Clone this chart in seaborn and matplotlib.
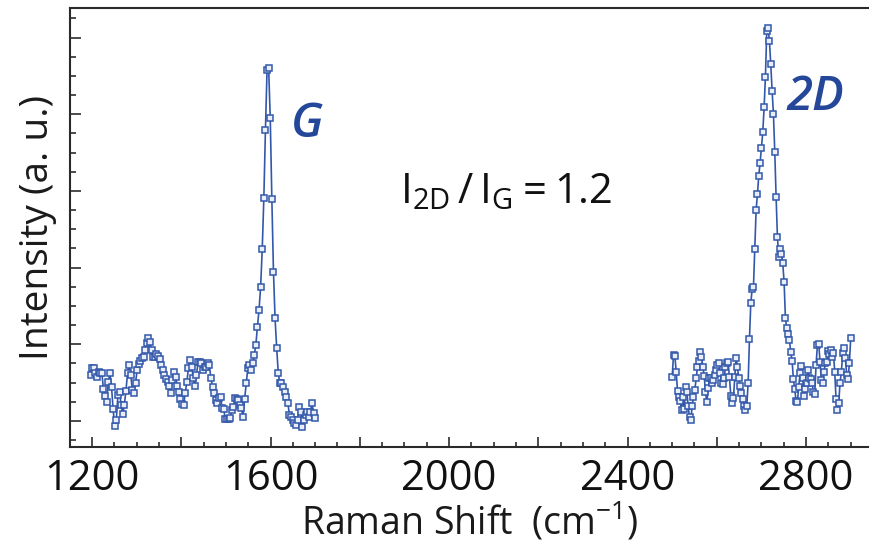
import matplotlib
matplotlib.use('Agg')
import matplotlib.pyplot as plt
import matplotlib.ticker as mticker
import numpy as np
import pandas as pd
import seaborn as sns

g_start, g_end = 1197, 1700
g_intensity = [
    1600, 1695, 1687, 1622, 1578, 1643, 1630, 1622, 1413, 1326,
    1252, 1512, 1622, 1447, 1153, 935, 1013, 1339, 1382, 1209,
    1087, 1209, 1395, 1622, 1730, 1600, 1404, 1369, 1499, 1665,
    1739, 1786, 1825, 1831, 1926, 2013, 2078, 2034, 1926, 1838,
    1838, 1874, 1852, 1805, 1730, 1665, 1600, 1544, 1512, 1456,
    1369, 1535, 1643, 1578, 1456, 1382, 1283, 1222, 1209, 1369,
    1512, 1695, 1795, 1708, 1557, 1456, 1600, 1773, 1773, 1760,
    1665, 1708, 1700, 1760, 1730, 1557, 1447, 1361, 1274, 1231,
    1296, 1317, 1166, 1153, 1022, 1022, 1022, 1035, 1143, 1179,
    1296, 1287, 1274, 1209, 1166, 1056, 1283, 1492, 1687, 1730,
    1665, 1752, 1861, 1991,
    2230, 2447, 2751, 3239, 3904, 4795, 5577, 5599, 4947, 3891,
    2947, 2339, 1956,
    1622, 1492, 1499, 1447, 1382, 1317, 1231, 1078, 1056, 1013,
    970, 948, 1013, 1186, 1121, 926, 1013, 1078, 1121, 1056,
    1121, 1231, 1100, 1035,
]

d_start, d_end = 2500, 2900
d_intensity = [
    1578, 1861, 1852, 1643, 1395, 1317, 1265, 1143, 1309, 1153,
    1439, 1382, 1196, 1048, 1013, 1196, 1317, 1404, 1557, 1708,
    1786, 1904, 1838, 1708, 1587, 1382, 1244, 1426, 1557, 1557,
    1492, 1535, 1600, 1665, 1730, 1760, 1622, 1492, 1482, 1557,
    1708, 1760, 1765, 1570, 1326, 1231, 1296, 1578, 1825, 1700,
    1557, 1456, 1361, 1287, 1196, 1143, 1196, 1492, 2065,
    2535, 2717, 2743, 3247, 3751, 3960, 4199, 4368, 4564, 4765,
    5091, 5490, 6090, 6121,
    5955, 5651, 5307, 5003, 4512, 3921, 3399, 3135, 3239, 3174,
    3056, 2816, 2339, 2209, 2134, 2056,
    1896, 1786, 1544, 1413, 1261, 1252, 1447, 1622, 1721, 1557,
    1326, 1413, 1492, 1665, 1557, 1544, 1492, 1382, 1352, 1730,
    1991, 2004, 1773, 1535, 1499, 1643, 1760, 1773, 1917, 1874,
    1926, 1838, 1891, 1643, 1287, 1143, 1231, 1499, 1643, 1883,
    1956, 1818, 1600, 1544, 1752, 2078,
]

peak_labels = ['G', '2D']
peak_label_pos = [(1682, 4860), (2820, 5212)]
ratio_text = r'$\mathregular{I_{2D}\,/\,I_G = 1.2}$'

g_df = pd.DataFrame({'shift': np.linspace(g_start, g_end, len(g_intensity)),
                     'intensity': g_intensity})
d_df = pd.DataFrame({'shift': np.linspace(d_start, d_end, len(d_intensity)),
                     'intensity': d_intensity})

sns.set_theme(style='ticks')
plt.rcParams['font.family'] = ['Open Sans', 'DejaVu Sans']
plt.rcParams['mathtext.fontset'] = 'custom'
plt.rcParams['mathtext.rm'] = 'Open Sans'

line_color = '#3358aa'
text_color = '#24479a'
ink = '#1a1a1a'

fig = plt.figure(figsize=(8.69, 5.45), dpi=100)
ax = fig.add_axes([70 / 869, 98.3 / 545, 799 / 869, 438.7 / 545])

for df in (g_df, d_df):
    sns.lineplot(data=df, x='shift', y='intensity', ax=ax, color=line_color,
                 linewidth=1.2, marker='s', markersize=3.9,
                 markerfacecolor='#e9eef9', markeredgecolor=line_color,
                 markeredgewidth=1.1, estimator=None, sort=False)

ax.set_xlim(1150.7, 2941)
ax.set_ylim(665, 6385)

ax.xaxis.set_major_locator(mticker.MultipleLocator(200))
ax.xaxis.set_minor_locator(mticker.MultipleLocator(50))
ax.xaxis.set_major_formatter(mticker.FuncFormatter(
    lambda v, p: f'{v:.0f}' if round(v) % 400 == 0 else ''))
ax.yaxis.set_major_locator(mticker.MultipleLocator(1000))
ax.yaxis.set_minor_locator(mticker.MultipleLocator(250))
ax.yaxis.set_major_formatter(mticker.NullFormatter())

ax.tick_params(axis='x', which='major', direction='in', length=7.2, width=1.1,
               color=ink, pad=8, labelsize=30, labelcolor='#111111')
ax.tick_params(axis='x', which='minor', direction='in', length=3.4, width=1.1, color=ink)
ax.tick_params(axis='y', which='major', direction='in', length=8, width=1.1, color=ink)
ax.tick_params(axis='y', which='minor', direction='in', length=4.3, width=1.1, color=ink)

for side in ('left', 'bottom', 'top'):
    ax.spines[side].set_linewidth(1.5)
    ax.spines[side].set_color('#2a2a2a')
ax.spines['right'].set_visible(False)

ax.set_xlabel(r'Raman Shift  (cm$^{-1}$)', fontsize=27, color='#1a1a1a', labelpad=0)
ax.set_ylabel('Intensity (a. u.)', fontsize=28, color='#1a1a1a', labelpad=6)

for lab, (x, y) in zip(peak_labels, peak_label_pos):
    ax.text(x, y, lab, fontsize=34, fontweight='semibold', fontstyle='italic',
            color=text_color, ha='center', va='center')

ax.text(2128, 3843, ratio_text, fontsize=30, color='#111111',
        ha='center', va='baseline')

fig.savefig('out.png', dpi=100)
